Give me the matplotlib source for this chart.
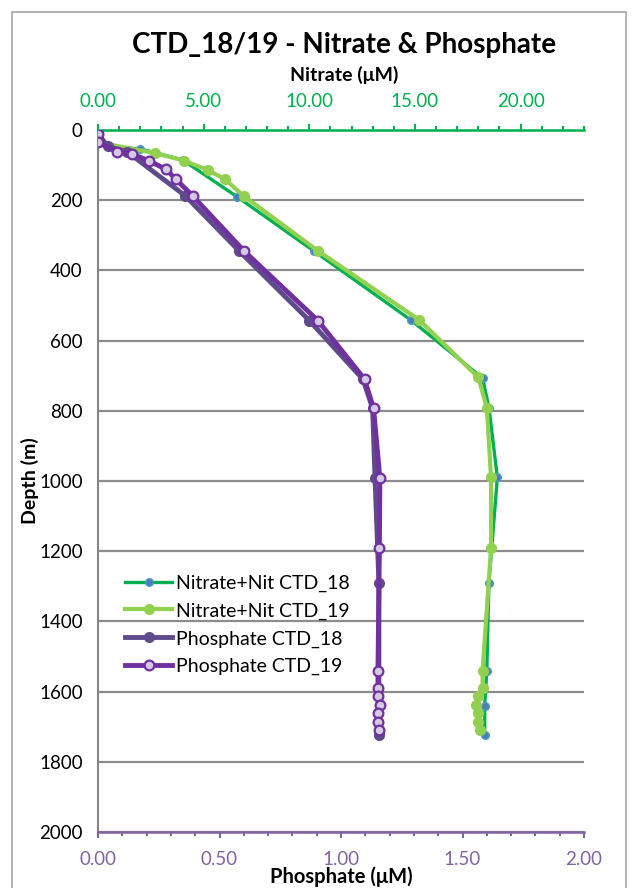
import matplotlib.pyplot as plt
from matplotlib.patches import Rectangle
from matplotlib.ticker import MultipleLocator

plt.rcParams['font.family'] = ['Lato', 'DejaVu Sans']

# nitrate + nitrite (uM) vs depth (m)
depth_n18 = [10, 47, 54, 85, 191, 344, 541, 707, 791, 990, 1290, 1541, 1640, 1724]
nit_18 = [0.0, 0.5, 2.0, 4.0, 6.6, 10.2, 14.8, 18.2, 18.5, 18.9, 18.5, 18.4, 18.3, 18.3]
depth_n19 = [10, 35, 66, 87, 114, 140, 188, 344, 541, 705, 791, 990, 1192,
             1541, 1591, 1613, 1638, 1662, 1686, 1708]
nit_19 = [0.0, 0.0, 2.7, 4.05, 5.2, 6.0, 6.9, 10.4, 15.2, 18.0, 18.4, 18.6, 18.6,
          18.2, 18.2, 18.0, 17.9, 18.0, 18.0, 18.1]

# phosphate (uM) vs depth (m)
depth_p18 = [10, 47, 62, 188, 344, 543, 710, 793, 992, 1290, 1724]
phos_18 = [0.0, 0.04, 0.12, 0.36, 0.58, 0.87, 1.09, 1.13, 1.14, 1.156, 1.156]
depth_p19 = [10, 35, 63, 68, 88, 112, 140, 188, 344, 543, 710, 793, 992, 1192,
             1541, 1591, 1613, 1638, 1662, 1686, 1708]
phos_19 = [0.0, 0.0, 0.08, 0.14, 0.21, 0.28, 0.32, 0.39, 0.60, 0.905, 1.097, 1.134,
           1.16, 1.158, 1.152, 1.152, 1.152, 1.16, 1.152, 1.152, 1.158]

fig = plt.figure(figsize=(6.38, 8.88), dpi=100)
fig.patches.append(Rectangle((12 / 638, -0.01), 614 / 638, 1 - 12 / 888 + 0.01,
                             transform=fig.transFigure, fill=False,
                             edgecolor='#a6a6a6', lw=1.2))

axN = fig.add_axes([98 / 638, 1 - 832 / 888, 486 / 638, 702 / 888])
axP = axN.twiny()

# nitrate on top axis
axN.plot(nit_18, depth_n18, color='#00b050', lw=2.4, marker='o', ms=5.5,
         mfc='#4a7ebb', mec='#4a9ebb', label='Nitrate+Nit CTD_18')
axN.plot(nit_19, depth_n19, color='#92d050', lw=3, marker='o', ms=7,
         mfc='#92d050', mec='#92d050', label='Nitrate+Nit CTD_19')
axN.set_xlim(0, 23)
axN.set_ylim(2000, 0)
axN.xaxis.set_ticks_position('top')
axN.xaxis.set_label_position('top')
axN.xaxis.set_major_locator(MultipleLocator(5))
axN.xaxis.set_minor_locator(MultipleLocator(1))
axN.xaxis.set_major_formatter(lambda v, p: f'{v:.2f}')
axN.tick_params(axis='x', which='major', colors='#00b050', labelsize=13.5,
                length=4.5, width=1.5, pad=10)
axN.tick_params(axis='x', which='minor', colors='#00b050', length=3, width=1.5)
axN.set_xlabel('Nitrate (μM)', fontsize=14, fontweight='bold', va='bottom')
axN.xaxis.set_label_coords(0.506, (832 - 84) / 702)
axN.set_yticks(range(0, 2001, 200))
axN.tick_params(axis='y', length=0, labelsize=13.5, pad=11)
axN.grid(axis='y', color='#8c8c8c', lw=1.6)
axN.set_ylabel('Depth (m)', fontsize=14, fontweight='bold', va='center')
axN.yaxis.set_label_coords((30 - 98) / 486, 0.5)
for s in ['right', 'bottom']:
    axN.spines[s].set_visible(False)
axN.spines['top'].set_color('#00b050')
axN.spines['top'].set_linewidth(1.8)
axN.spines['left'].set_color('#868686')
axN.spines['left'].set_linewidth(1.5)

# phosphate on bottom axis
axP.plot(phos_18, depth_p18, color='#5f4b8b', lw=3.5, marker='o', ms=7,
         mfc='#5f4b8b', mec='#5f4b8b', label='Phosphate CTD_18')
axP.plot(phos_19, depth_p19, color='#7030a0', lw=3.5, marker='o', ms=7,
         mfc='#d4cae3', mec='#7030a0', mew=1.6, label='Phosphate CTD_19')
axP.set_xlim(0, 2)
axP.xaxis.set_ticks_position('bottom')
axP.xaxis.set_label_position('bottom')
axP.xaxis.set_major_locator(MultipleLocator(0.5))
axP.xaxis.set_minor_locator(MultipleLocator(0.1))
axP.xaxis.set_major_formatter(lambda v, p: f'{v:.2f}')
axP.tick_params(axis='x', which='major', colors='#8064a2', labelsize=13.5,
                length=4.5, width=1.5, pad=9)
axP.tick_params(axis='x', which='minor', colors='#8064a2', length=3, width=1.5)
axP.set_xlabel('Phosphate (μM)', fontsize=14.5, fontweight='bold', va='top')
axP.xaxis.set_label_coords(0.5, -(866 - 832) / 702)
for s in ['right', 'top', 'left']:
    axP.spines[s].set_visible(False)
axP.spines['bottom'].set_color('#8064a2')
axP.spines['bottom'].set_linewidth(1.8)

h1, l1 = axN.get_legend_handles_labels()
h2, l2 = axP.get_legend_handles_labels()
axP.legend(h1 + h2, l1 + l2, loc='upper left', bbox_to_anchor=(0.02, 0.392),
           frameon=False, fontsize=14, handlelength=2.4, labelspacing=0.55,
           handletextpad=0.2)

fig.text(0.54, 1 - 45 / 888, 'CTD_18/19 - Nitrate & Phosphate', ha='center',
         va='center', fontsize=20, fontweight='bold')

fig.savefig('out.png', dpi=100, facecolor='white')
